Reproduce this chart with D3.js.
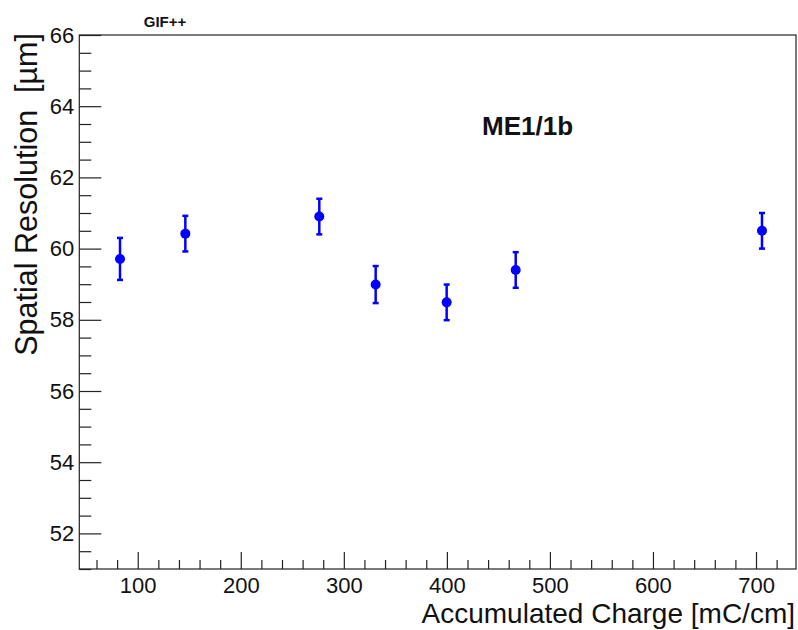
<!DOCTYPE html>
<html>
<head>
<meta charset="utf-8">
<script src="https://cdn.jsdelivr.net/npm/d3@7"></script>
<style>
  body { margin: 0; background: #fff; }
  svg { display: block; font-family: "Liberation Sans", Arial, sans-serif; }
</style>
</head>
<body>
<svg width="798" height="630"></svg>
<script>
// data
var charge = [82.8, 146.2, 276.2, 330.9, 399.8, 466.8, 705.8];
var resolution = [59.71, 60.42, 60.9, 58.99, 58.49, 59.40, 60.50];
var resErr = [0.59, 0.5, 0.5, 0.52, 0.5, 0.5, 0.5];
var xTicks = [100, 200, 300, 400, 500, 600, 700];
var yTicks = [52, 54, 56, 58, 60, 62, 64, 66];

var svg = d3.select("svg");
var padL = 79.3, padR = 796, padT = 35, padB = 569;

var x = d3.scaleLinear().domain([43.3, 738.8]).range([padL, padR]);
var y = d3.scaleLinear().domain([51, 66]).range([padB, padT]);

var xMinor = d3.range(60, 740, 20).filter(function (v) { return v % 100 !== 0; });
var yMinor = d3.range(51, 66, 0.5).filter(function (v) { return v % 2 !== 0; });

// frame
svg.append("rect")
  .attr("x", padL).attr("y", padT)
  .attr("width", padR - padL).attr("height", padB - padT)
  .attr("fill", "none").attr("stroke", "#222").attr("stroke-width", 1.2);

// x axis
var gx = svg.append("g").attr("transform", "translate(0," + padB + ")");
gx.call(d3.axisBottom(x).tickValues(xTicks).tickSize(-17).tickPadding(8).tickFormat(d3.format("d")));
gx.append("g").call(d3.axisBottom(x).tickValues(xMinor).tickSize(-9).tickFormat(""));

// y axis
var gy = svg.append("g").attr("transform", "translate(" + padL + ",0)");
gy.call(d3.axisLeft(y).tickValues(yTicks).tickSize(-22).tickPadding(5).tickFormat(d3.format("d")));
gy.append("g").call(d3.axisLeft(y).tickValues(yMinor).tickSize(-12).tickFormat(""));

svg.selectAll(".domain").remove();
svg.selectAll(".tick line").attr("stroke", "#222").attr("stroke-width", 1.2);
svg.selectAll(".tick text")
  .attr("font-family", "Liberation Sans, Arial, sans-serif")
  .attr("font-size", 22).attr("fill", "#111");

// axis titles
svg.append("text")
  .attr("x", 795).attr("y", 623)
  .attr("text-anchor", "end")
  .attr("font-size", 28).attr("fill", "#111")
  .text("Accumulated Charge [mC/cm]");

svg.append("text")
  .attr("transform", "translate(37,33) rotate(-90)")
  .attr("text-anchor", "end")
  .attr("font-size", 30.5).attr("fill", "#111")
  .attr("xml:space", "preserve")
  .style("white-space", "pre")
  .text("Spatial Resolution  [\u00b5m]");

// labels
svg.append("text")
  .attr("x", 165).attr("y", 27)
  .attr("text-anchor", "middle")
  .attr("font-size", 15).attr("font-weight", "bold").attr("fill", "#111")
  .text("GIF++");

svg.append("text")
  .attr("x", 482).attr("y", 135)
  .attr("font-size", 26).attr("font-weight", "bold").attr("fill", "#111")
  .text("ME1/1b");

// points with error bars
var pts = charge.map(function (c, i) {
  return { x: c, y: resolution[i], e: resErr[i] };
});

var g = svg.append("g");
g.selectAll("line.err")
  .data(pts).enter().append("line")
  .attr("class", "err")
  .attr("x1", function (d) { return x(d.x); })
  .attr("x2", function (d) { return x(d.x); })
  .attr("y1", function (d) { return y(d.y + d.e); })
  .attr("y2", function (d) { return y(d.y - d.e); })
  .attr("stroke", "#0000ff").attr("stroke-width", 2.5);

[1, -1].forEach(function (s) {
  g.selectAll("line.cap" + s)
    .data(pts).enter().append("line")
    .attr("x1", function (d) { return x(d.x) - 3; })
    .attr("x2", function (d) { return x(d.x) + 3; })
    .attr("y1", function (d) { return y(d.y + s * d.e); })
    .attr("y2", function (d) { return y(d.y + s * d.e); })
    .attr("stroke", "#0000ff").attr("stroke-width", 2.5);
});

g.selectAll("circle")
  .data(pts).enter().append("circle")
  .attr("cx", function (d) { return x(d.x); })
  .attr("cy", function (d) { return y(d.y); })
  .attr("r", 5)
  .attr("fill", "#0000ff");
</script>
</body>
</html>
